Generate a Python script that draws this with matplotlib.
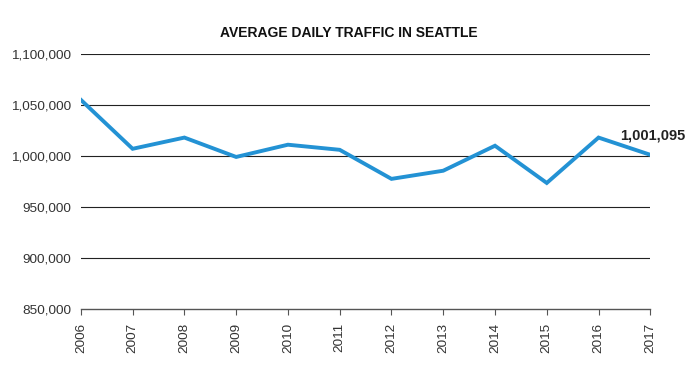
import matplotlib.pyplot as plt
from matplotlib.ticker import FuncFormatter

years = [2006, 2007, 2008, 2009, 2010, 2011, 2012, 2013, 2014, 2015, 2016, 2017]
traffic = [1055000, 1007000, 1018000, 999000, 1011000, 1006000,
           977500, 985500, 1010000, 973500, 1018000, 1001095]
yticks = [850000, 900000, 950000, 1000000, 1050000, 1100000]

plt.rcParams['font.family'] = ['Liberation Sans', 'DejaVu Sans']

fig = plt.figure(figsize=(6.97, 3.91), dpi=100)
ax = fig.add_axes([0.116, 0.210, 0.817, 0.652])

ax.plot(years, traffic, color='#2392d4', linewidth=2.8, solid_joinstyle='miter', zorder=3)

ax.set_xlim(years[0], years[-1])
ax.set_ylim(yticks[0], yticks[-1])
ax.set_yticks(yticks)
ax.set_xticks(years)
ax.yaxis.set_major_formatter(FuncFormatter(lambda v, p: '{:,.0f}'.format(v)))
ax.set_xticklabels([str(y) for y in years], rotation=90)

for t in yticks[1:]:
    ax.axhline(t, color='#222222', linewidth=0.8, zorder=1)

for s in ['top', 'right', 'left']:
    ax.spines[s].set_visible(False)
ax.spines['bottom'].set_color('#555555')
ax.spines['bottom'].set_linewidth(1.0)

ax.tick_params(axis='y', length=0, pad=7, labelsize=9.7, labelcolor='#333333')
ax.tick_params(axis='x', length=4, color='#555555', labelsize=9.7, labelcolor='#333333', pad=6)

# value label for last year
ax.annotate('{:,}'.format(traffic[-1]), xy=(years[-1], traffic[-1]),
            xytext=(-22, 9), textcoords='offset points', ha='left', va='bottom',
            fontsize=10.5, fontweight='bold', color='#222222', annotation_clip=False)

fig.text(0.5, 0.915, 'AVERAGE DAILY TRAFFIC IN SEATTLE', ha='center', va='center',
         fontsize=10, fontweight='bold', color='#111111')

fig.savefig('out.png', dpi=100)
